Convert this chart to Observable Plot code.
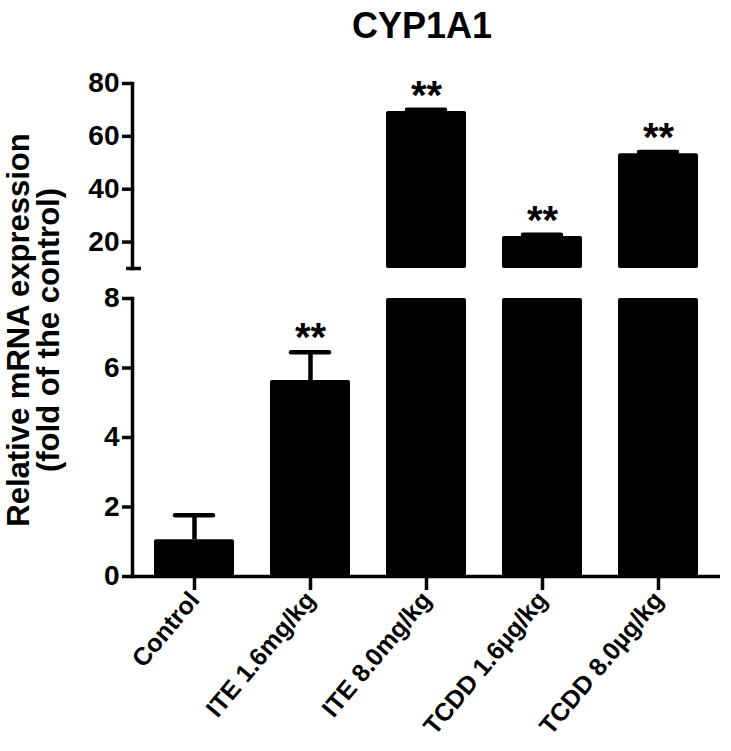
<!DOCTYPE html>
<html>
<head>
<meta charset="utf-8">
<script src="https://cdn.jsdelivr.net/npm/d3@7"></script>
<script src="https://cdn.jsdelivr.net/npm/@observablehq/plot@0.6"></script>
<style>
  html, body { margin: 0; padding: 0; background: white; }
  #wrap { position: relative; width: 731px; height: 751px; overflow: hidden; font-family: "Liberation Sans", Arial, sans-serif; }
  #wrap svg { position: absolute; left: 0; }
</style>
</head>
<body>
<div id="wrap"></div>
<script>
// ---- data ----
const categories = ["Control", "ITE 1.6mg/kg", "ITE 8.0mg/kg", "TCDD 1.6µg/kg", "TCDD 8.0µg/kg"];
const means      = [1.06, 5.64, 69.4, 22.1, 53.4];
const errUpper   = [1.76, 6.45, 70.1, 22.8, 54.1];
const stars      = ["", "**", "**", "**", "**"];
const topTicks    = [20, 40, 60, 80];
const bottomTicks = [0, 2, 4, 6, 8];
const breakLow = 8, breakHigh = 10, topMax = 80;
const title = "CYP1A1";
const yLabel = ["Relative mRNA expression", "(fold of the control)"];

const data = categories.map((c, i) => ({cat: c, mean: means[i], err: errUpper[i], star: stars[i]}));
const topData = data.filter(d => d.mean > breakHigh);
const lowData = data.filter(d => d.mean <= breakLow);

const font = "'Liberation Sans', Arial, sans-serif";
const W = 731;
const xScale = {domain: categories, paddingInner: 0.31, paddingOuter: 0.17, align: 0.5};
const commonStyle = {fontFamily: font, fontWeight: "bold", color: "black", background: "transparent", overflow: "visible"};
const lw = 3.5;

const topPlot = Plot.plot({
  width: W, height: 280,
  marginTop: 83, marginBottom: 12, marginLeft: 132, marginRight: 11,
  style: commonStyle,
  x: {...xScale, axis: null},
  y: {domain: [breakHigh, topMax]},
  marks: [
    Plot.barY(topData, {x: "cat", y1: d => breakHigh, y2: "mean", fill: "black", rx: 2}),
    Plot.ruleX(topData, {x: "cat", y1: "mean", y2: "err", stroke: "black", strokeWidth: 4.5}),
    Plot.tickY(topData, {x: "cat", y: "err", stroke: "black", strokeWidth: 4.5, insetLeft: 21, insetRight: 21, strokeLinecap: "round"}),
    Plot.text(topData, {x: "cat", y: "err", text: "star", fontSize: 40, fontWeight: "bold", lineAnchor: "bottom", dy: -1, fill: "black"}),
    Plot.frame({anchor: "left", stroke: "black", strokeWidth: lw}),
    Plot.axisY({ticks: topTicks, tickSize: 10, tickPadding: 3, fontSize: 28, fontWeight: "bold", strokeWidth: lw, label: null}),
    Plot.axisY({ticks: [breakHigh], tickSize: 15, dx: 9, tickFormat: () => "", strokeWidth: lw, label: null})
  ]
});
topPlot.style.top = "0px";

const lowPlot = Plot.plot({
  width: W, height: 471,
  marginTop: 18, marginBottom: 175, marginLeft: 132, marginRight: 11,
  style: commonStyle,
  x: {...xScale},
  y: {domain: [0, breakLow]},
  marks: [
    Plot.barY(data, {x: "cat", y1: d => 0, y2: d => Math.min(d.mean, breakLow), fill: "black", rx: 2}),
    Plot.ruleX(lowData, {x: "cat", y1: "mean", y2: "err", stroke: "black", strokeWidth: 4.5}),
    Plot.tickY(lowData, {x: "cat", y: "err", stroke: "black", strokeWidth: 4.5, insetLeft: 21, insetRight: 21, strokeLinecap: "round"}),
    Plot.text(lowData, {x: "cat", y: "err", text: "star", fontSize: 40, fontWeight: "bold", lineAnchor: "bottom", dy: -1, fill: "black"}),
    Plot.frame({anchor: "left", stroke: "black", strokeWidth: lw}),
    Plot.ruleY([0], {stroke: "black", strokeWidth: lw}),
    Plot.axisY({ticks: bottomTicks, tickSize: 10, tickPadding: 3, fontSize: 28, fontWeight: "bold", strokeWidth: lw, label: null}),
    Plot.axisX({tickRotate: -50, tickSize: 14, tickPadding: 5, fontSize: 25, fontWeight: "bold", strokeWidth: lw, label: null})
  ]
});
lowPlot.style.top = "280px";

const wrap = document.getElementById("wrap");
wrap.appendChild(lowPlot);
wrap.appendChild(topPlot);

// title and y label overlay
const overlay = d3.create("svg")
  .attr("width", W).attr("height", 751)
  .style("top", "0px").style("pointer-events", "none")
  .style("font-family", font).style("font-weight", "bold");
overlay.append("text")
  .attr("x", 422).attr("y", 38).attr("text-anchor", "middle")
  .attr("font-size", 36).attr("fill", "black").text(title);
yLabel.forEach((t, i) => {
  overlay.append("text")
    .attr("transform", `translate(${29 + i * 30},330) rotate(-90)`)
    .attr("text-anchor", "middle").attr("font-size", 31).attr("fill", "black").text(t);
});
wrap.appendChild(overlay.node());
</script>
</body>
</html>
